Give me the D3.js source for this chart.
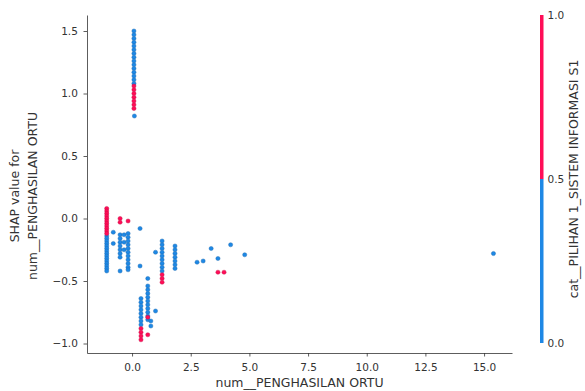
<!DOCTYPE html>
<html>
<head>
<meta charset="utf-8">
<script src="https://cdn.jsdelivr.net/npm/d3@7"></script>
<style>
  html, body { margin: 0; padding: 0; background: #fff; }
  svg { display: block; font-family: "DejaVu Sans", sans-serif; }
</style>
</head>
<body>
<svg id="chart" width="585" height="391"></svg>
<script>
// ---- data ----
const xTicks = [0.0, 2.5, 5.0, 7.5, 10.0, 12.5, 15.0];
const yTicks = [-1.0, -0.5, 0.0, 0.5, 1.0, 1.5];
const cbTicks = [0.0, 0.5, 1.0];
const xLabel = "num__PENGHASILAN ORTU";
const yLabelLines = ["SHAP value for", "num__PENGHASILAN ORTU"];
const cbLabel = "cat__PILIHAN 1_SISTEM INFORMASI S1";

// columns of points: feature value, SHAP values, colour-feature value (0 = blue, 1 = red)
const colTop   = { x: 0.08, blue: [1.50,1.47,1.44,1.41,1.38,1.35,1.32,1.29,1.26,1.23,1.20,1.17,1.14,1.11,1.08], red: [1.06,1.03,1.00,0.97,0.94,0.91,0.88] };
const colA     = { x: -1.08, red: [0.08,0.06,0.04,0.02,0.00,-0.02,-0.04,-0.06,-0.08,-0.10,-0.12], blue: [-0.14,-0.16,-0.18,-0.20,-0.22,-0.24,-0.26,-0.28,-0.30,-0.32,-0.34,-0.36,-0.38,-0.40,-0.42] };
const colB     = { x: -0.80, red: [], blue: [-0.11,-0.20] };
const colC     = { x: -0.51, red: [0.00,-0.03], blue: [-0.13,-0.16,-0.19,-0.22,-0.25,-0.28,-0.31,-0.42] };
const colC2    = { x: -0.34, red: [], blue: [-0.13,-0.19,-0.25] };
const colD     = { x: -0.17, red: [-0.02], blue: [-0.12,-0.15,-0.18,-0.21,-0.24,-0.27,-0.30,-0.33,-0.36,-0.39,-0.41] };
const colE     = { x: 0.34, red: [], blue: [-0.08,-0.38] };
const colF     = { x: 0.38, blue: [-0.64,-0.67,-0.70,-0.73,-0.76,-0.79,-0.82,-0.85], red: [-0.88,-0.91,-0.94,-0.97] };
const colG     = { x: 0.67, blue: [-0.48,-0.54,-0.57,-0.60,-0.63,-0.66,-0.69,-0.72,-0.75,-0.78,-0.81], red: [-0.79,-0.93] };
const colH     = { x: 0.80, red: [], blue: [-0.82,-0.86] };
const colI     = { x: 1.00, red: [], blue: [-0.27,-0.74] };
const colJ     = { x: 1.28, blue: [-0.18,-0.21,-0.24,-0.27,-0.30,-0.33,-0.36,-0.39,-0.42], red: [-0.45,-0.48,-0.51] };
const colK     = { x: 1.83, red: [], blue: [-0.22,-0.25,-0.28,-0.31,-0.34,-0.37,-0.40] };
const scatterX   = [0.10, 2.77, 3.03, 3.37, 3.66, 4.20, 4.80, 15.4, 3.66, 3.92];
const scatterY   = [0.82, -0.35, -0.34, -0.24, -0.32, -0.21, -0.29, -0.28, -0.43, -0.43];
const scatterCat = [0, 0, 0, 0, 0, 0, 0, 0, 1, 1];

// ---- assemble points ----
const columns = [colTop, colA, colB, colC, colC2, colD, colE, colF, colG, colH, colI, colJ, colK];
const points = [];
columns.forEach(c => {
  c.blue.forEach(v => points.push({ x: c.x, y: v, c: 0 }));
  c.red.forEach(v => points.push({ x: c.x, y: v, c: 1 }));
});
scatterX.forEach((v, i) => points.push({ x: v, y: scatterY[i], c: scatterCat[i] }));

// ---- layout ----
const svg = d3.select("#chart");
const mLeft = 87, mRight = 512, mTop = 15, mBottom = 353;
const xScale = d3.scaleLinear().domain([-1.92, 16.19]).range([mLeft, mRight]);
const yScale = d3.scaleLinear().domain([-1.076, 1.628]).range([mBottom, mTop]);
const color = d3.scaleThreshold().domain([0.5]).range(["#1E88E5", "#FF0D57"]);
const axisColor = "#333333";

// axes
const gx = svg.append("g").attr("transform", `translate(0,${mBottom})`)
  .call(d3.axisBottom(xScale).tickValues(xTicks).tickFormat(d3.format(".1f")).tickSize(3.5).tickSizeOuter(0));
const gy = svg.append("g").attr("transform", `translate(${mLeft},0)`)
  .call(d3.axisLeft(yScale).tickValues(yTicks).tickFormat(d => d3.format(".1f")(d).replace("-", "\u2212")).tickSize(3.5).tickSizeOuter(0));
[gx, gy].forEach(g => {
  g.select(".domain").attr("stroke", axisColor).attr("stroke-width", 0.8);
  g.selectAll(".tick line").attr("stroke", axisColor).attr("stroke-width", 0.8);
  g.selectAll(".tick text").attr("fill", axisColor).attr("font-size", 10.5)
    .attr("font-family", "DejaVu Sans, sans-serif");
});
gx.selectAll(".tick text").attr("dy", "1.05em");
gy.selectAll(".tick text").attr("dx", "-0.25em");

// points
svg.append("g").selectAll("circle").data(points).join("circle")
  .attr("cx", d => xScale(d.x))
  .attr("cy", d => yScale(d.y))
  .attr("r", 2.1)
  .attr("fill", d => color(d.c))
  .attr("stroke", d => d3.color(color(d.c)).darker(0.8))
  .attr("stroke-width", 0.4);

// axis labels
svg.append("text").attr("x", (mLeft + mRight) / 2).attr("y", 387)
  .attr("text-anchor", "middle").attr("font-size", 12.5).attr("fill", axisColor)
  .text(xLabel);
const yl = svg.append("text").attr("transform", "translate(19,196) rotate(-90)")
  .attr("text-anchor", "middle").attr("font-size", 12.5).attr("fill", axisColor);
yLabelLines.forEach((t, i) => yl.append("tspan").attr("x", 0).attr("dy", i === 0 ? 0 : "1.45em").text(t));

// colorbar
const cbX = 540, cbW = 3.5;
const cbScale = d3.scaleLinear().domain([0, 1]).range([343, 15]);
svg.append("rect").attr("x", cbX).attr("y", cbScale(1)).attr("width", cbW)
  .attr("height", cbScale(0.5) - cbScale(1)).attr("fill", color(1));
svg.append("rect").attr("x", cbX).attr("y", cbScale(0.5)).attr("width", cbW)
  .attr("height", cbScale(0) - cbScale(0.5)).attr("fill", color(0));
const gcb = svg.append("g").attr("transform", `translate(${cbX + cbW},0)`)
  .call(d3.axisRight(cbScale).tickValues(cbTicks).tickFormat(d3.format(".1f")).tickSize(0).tickPadding(4));
gcb.select(".domain").remove();
gcb.selectAll(".tick text").attr("fill", axisColor).attr("font-size", 10.5)
  .attr("font-family", "DejaVu Sans, sans-serif");
svg.append("text").attr("transform", `translate(578,${cbScale(0.5)}) rotate(-90)`)
  .attr("text-anchor", "middle").attr("font-size", 12.5).attr("fill", axisColor)
  .text(cbLabel);
</script>
</body>
</html>
